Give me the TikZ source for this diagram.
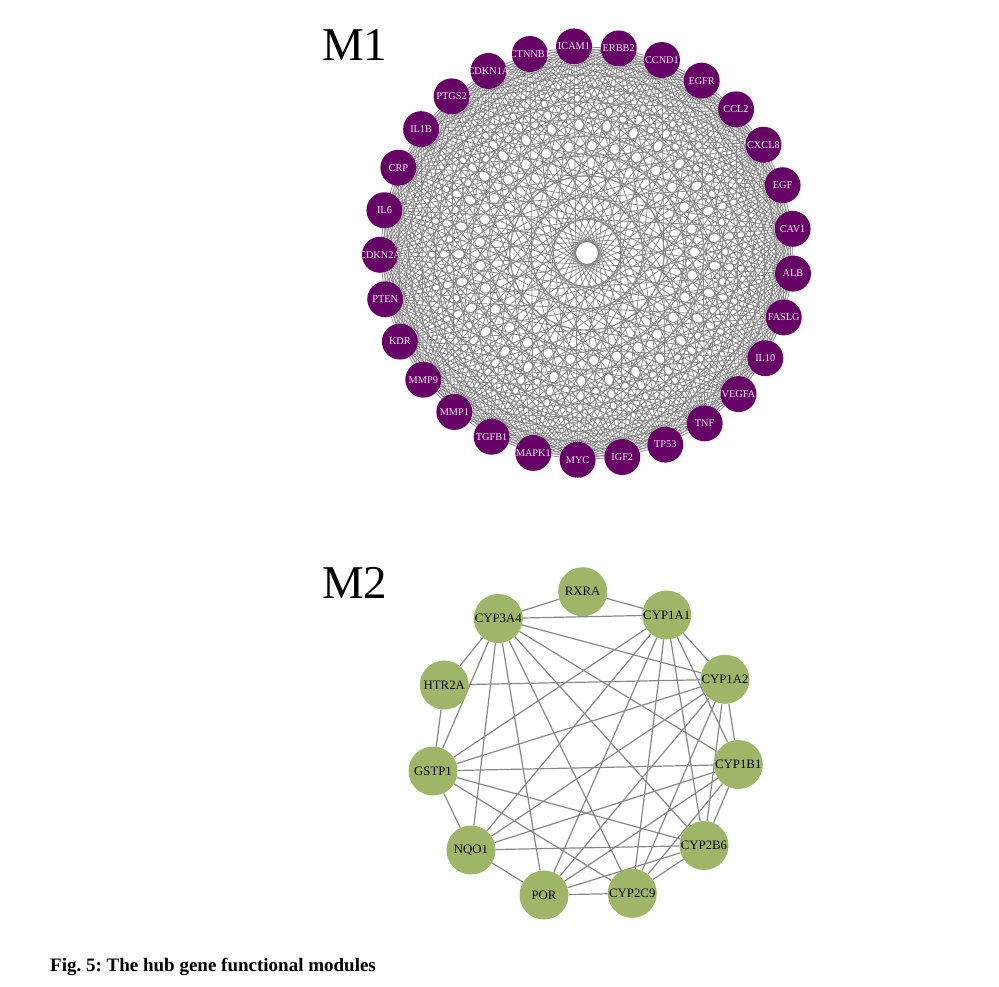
\documentclass[tikz,border=0pt]{standalone}
\usepackage{fontspec}
\setmainfont{Liberation Serif}
\usetikzlibrary{backgrounds}
\definecolor{hubpurple}{RGB}{102,0,102}
\definecolor{hubgreen}{RGB}{159,181,104}
\definecolor{edgegray}{RGB}{135,135,135}
\definecolor{labpink}{RGB}{245,230,245}
\begin{document}
\begin{tikzpicture}[x=1pt,y=-1pt,
  mnode/.style={circle,fill=hubpurple,minimum size=36pt,inner sep=0pt,text=labpink,font=\fontsize{10.3}{10.3}\selectfont},
  gnode/.style={circle,fill=hubgreen,minimum size=49pt,inner sep=0pt,text=black,font=\fontsize{12.8}{12.8}\selectfont},
  medge/.style={draw=edgegray,line width=0.75pt},
  gedge/.style={draw=edgegray,line width=1.2pt},
  modtitle/.style={font=\fontsize{47}{47}\selectfont,anchor=base west,inner sep=0pt}]
\useasboundingbox (0,0) rectangle (999,986);

% ---------- M1 ----------
\foreach \lab [count=\k from 0] in {ICAM1,ERBB2,CCND1,EGFR,CCL2,CXCL8,EGF,CAV1,ALB,FASLG,IL10,VEGFA,TNF,TP53,IGF2,MYC,MAPK1,TGFB1,MMP1,MMP9,KDR,PTEN,CDKN2A,IL6,CRP,IL1B,PTGS2,CDKN1A,CTNNB1} {
  \pgfmathsetmacro\ang{93.6-12.4138*\k}
  \node[mnode] (m\k) at ({587+207*cos(\ang)},{253-207*sin(\ang)}) {\makebox[0pt][c]{\lab}};
}
\begin{scope}[on background layer]
\foreach \i in {0,...,27} {
  \pgfmathtruncatemacro\s{\i+1}
  \foreach \j in {\s,...,28} { \draw[medge] (m\i) -- (m\j); }
}
\end{scope}

% ---------- M2 ----------
\node[gnode] (RXRA)   at (582.7,591.7) {RXRA};
\node[gnode] (CYP1A1) at (666.7,615)   {\makebox[0pt][c]{CYP1A1}};
\node[gnode] (CYP3A4) at (498.3,618.5) {\makebox[0pt][c]{CYP3A4}};
\node[gnode] (HTR2A)  at (444.3,685)   {HTR2A};
\node[gnode] (CYP1A2) at (725,679.3)   {\makebox[0pt][c]{CYP1A2}};
\node[gnode] (CYP1B1) at (738.3,764.5) {\makebox[0pt][c]{CYP1B1}};
\node[gnode] (GSTP1)  at (433,771)     {GSTP1};
\node[gnode] (NQO1)   at (471,850)     {NQO1};
\node[gnode] (CYP2B6) at (704,845.5)   {\makebox[0pt][c]{CYP2B6}};
\node[gnode] (POR)    at (544,895)     {POR};
\node[gnode] (CYP2C9) at (632.3,893.3) {\makebox[0pt][c]{CYP2C9}};
\begin{scope}[on background layer]
\foreach \a/\b in {RXRA/CYP3A4,RXRA/CYP1A1,CYP3A4/CYP1A1,CYP3A4/HTR2A,CYP3A4/GSTP1,CYP3A4/NQO1,CYP3A4/POR,CYP3A4/CYP2C9,CYP3A4/CYP2B6,CYP3A4/CYP1B1,CYP3A4/CYP1A2,
  CYP1A1/CYP1A2,CYP1A1/CYP1B1,CYP1A1/CYP2B6,CYP1A1/CYP2C9,CYP1A1/POR,CYP1A1/NQO1,CYP1A1/GSTP1,
  HTR2A/CYP1A2,HTR2A/GSTP1,
  GSTP1/CYP1A2,GSTP1/CYP1B1,GSTP1/CYP2B6,GSTP1/CYP2C9,GSTP1/NQO1,
  NQO1/CYP1A2,NQO1/CYP1B1,NQO1/CYP2B6,NQO1/POR,
  POR/CYP2C9,POR/CYP2B6,POR/CYP1B1,POR/CYP1A2,
  CYP2C9/CYP2B6,CYP2C9/CYP1A2,CYP2C9/CYP1B1,
  CYP1A2/CYP1B1,CYP1A2/CYP2B6,CYP1B1/CYP2B6}
  { \draw[gedge] (\a) -- (\b); }
\end{scope}

% ---------- titles and caption ----------
\node[modtitle] (t1) at (322,60) {M1};
\node[modtitle] (t2) at (322,598) {M2};
\node[font=\bfseries\fontsize{19}{19}\selectfont,anchor=base west,inner sep=0pt] (cap) at (50,971) {Fig.~5:~The hub gene functional modules};
\end{tikzpicture}
\end{document}
